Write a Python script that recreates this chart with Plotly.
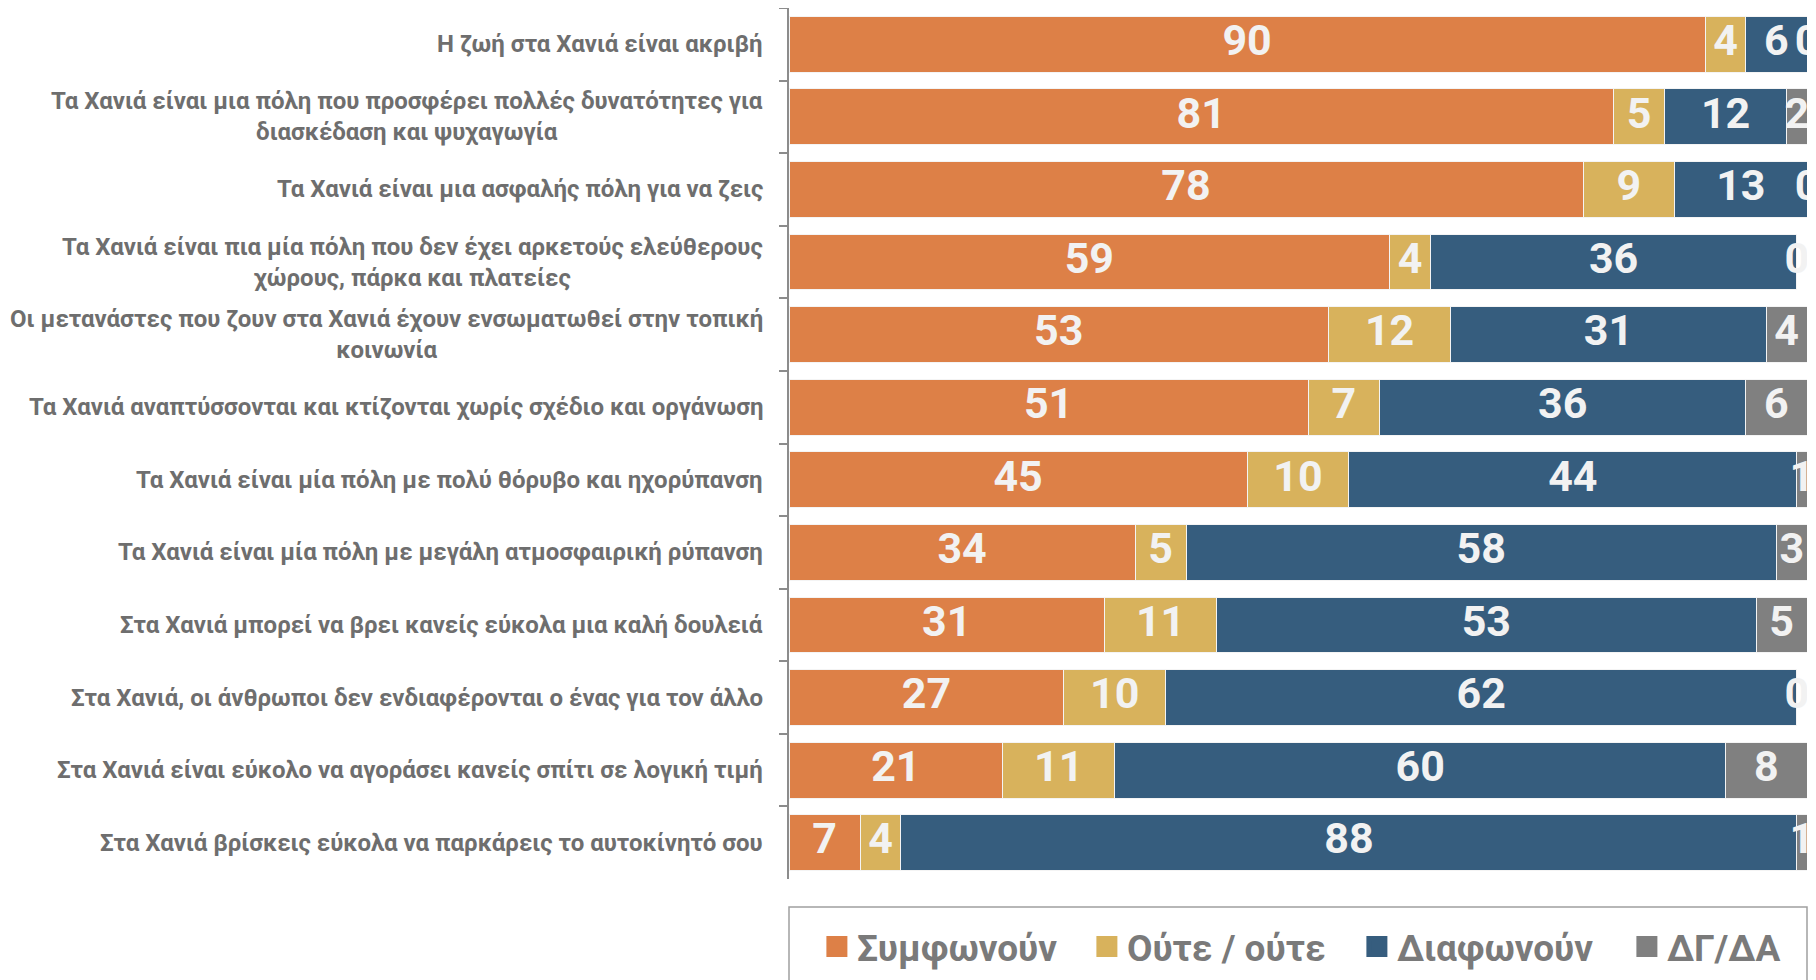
import plotly.graph_objects as go

categories = [
    "Η ζωή στα Χανιά είναι ακριβή",
    "Τα Χανιά είναι μια πόλη που προσφέρει πολλές δυνατότητες για<br>διασκέδαση και ψυχαγωγία",
    "Τα Χανιά είναι μια ασφαλής πόλη για να ζεις",
    "Τα Χανιά είναι πια μία πόλη που δεν έχει αρκετούς ελεύθερους<br>χώρους, πάρκα και πλατείες",
    "Οι μετανάστες που ζουν στα Χανιά έχουν ενσωματωθεί στην τοπική<br>κοινωνία",
    "Τα Χανιά αναπτύσσονται και κτίζονται χωρίς σχέδιο και οργάνωση",
    "Τα Χανιά είναι μία πόλη με πολύ θόρυβο και ηχορύπανση",
    "Τα Χανιά είναι μία πόλη με μεγάλη ατμοσφαιρική ρύπανση",
    "Στα Χανιά μπορεί να βρει κανείς εύκολα μια καλή δουλειά",
    "Στα Χανιά, οι άνθρωποι δεν ενδιαφέρονται ο ένας για τον άλλο",
    "Στα Χανιά είναι εύκολο να αγοράσει κανείς σπίτι σε λογική τιμή",
    "Στα Χανιά βρίσκεις εύκολα να παρκάρεις το αυτοκίνητό σου",
]
agree = [90, 81, 78, 59, 53, 51, 45, 34, 31, 27, 21, 7]
neither = [4, 5, 9, 4, 12, 7, 10, 5, 11, 10, 11, 4]
disagree = [6, 12, 13, 36, 31, 36, 44, 58, 53, 62, 60, 88]
dkna = [0, 2, 0, 0, 4, 6, 1, 3, 5, 0, 8, 1]

series_names = ["Συμφωνούν", "Ούτε / ούτε", "Διαφωνούν", "ΔΓ/ΔΑ"]
series_values = [agree, neither, disagree, dkna]
colors = ["#DD8047", "#D8B25C", "#365D7E", "#808080"]

FONT = "Roboto"
GREY = "#6E6E6E"

fig = go.Figure()

# stacked bars
for name, vals, col in zip(series_names, series_values, colors):
    fig.add_trace(go.Bar(
        y=categories, x=vals, orientation="h", name=name,
        marker=dict(color=col, line=dict(color="#F4F4F4", width=1)),
        showlegend=False, hoverinfo="x+name",
    ))

# data labels centred on each segment
cum = [0] * len(categories)
for name, vals in zip(series_names, series_values):
    mids = [c + v / 2 for c, v in zip(cum, vals)]
    fig.add_trace(go.Scatter(
        y=categories, x=mids, mode="text", text=[str(v) for v in vals],
        textposition="middle center",
        textfont=dict(family=FONT, size=43, color="#F2F2F2", weight="bold"),
        cliponaxis=True, showlegend=False, hoverinfo="skip",
    ))
    cum = [c + v for c, v in zip(cum, vals)]

# legend entries
for name, col in zip(series_names, colors):
    fig.add_trace(go.Scatter(
        x=[None], y=[None], mode="markers", name=name,
        marker=dict(symbol="square", size=16, color=col,
                    line=dict(color=col, width=5)),
        showlegend=True,
    ))

# category labels (centred multi-line, right anchored)
annotations = []
for cat in categories:
    annotations.append(dict(
        x=-0.0236, xref="paper", y=cat, yref="y",
        text=cat, showarrow=False, xanchor="right", yanchor="middle",
        align="center",
        font=dict(family=FONT, size=24, color=GREY, weight="bold"),
    ))

n = len(categories)
fig.update_layout(
    width=1808, height=972,
    margin=dict(l=781, r=9, t=0, b=101, autoexpand=False),
    barmode="stack", bargap=0.23,
    paper_bgcolor="white", plot_bgcolor="white",
    annotations=annotations,
    xaxis=dict(range=[0, 100], visible=False, fixedrange=True),
    yaxis=dict(
        type="category", range=[n - 0.5, -0.5], autorange=False,
        showticklabels=False, showgrid=False, zeroline=False,
        showline=True, linecolor="#8C8C8C", linewidth=1.5,
        ticks="outside", tickson="boundaries", ticklen=8,
        tickcolor="#8C8C8C", tickwidth=1.5,
    ),
    legend=dict(
        orientation="h", traceorder="normal",
        xref="paper", yref="paper",
        x=-0.0005, xanchor="left", y=-0.078, yanchor="middle",
        font=dict(family=FONT, size=37, color="#7A7A7A", weight="bold"),
        title=dict(text="\u00a0\u00a0", side="left",
                   font=dict(family=FONT, size=37, color="#7A7A7A")),
        entrywidth=225, entrywidthmode="pixels",
        bgcolor="rgba(0,0,0,0)", itemwidth=30,
    ),
    shapes=[dict(
        type="rect", xref="paper", yref="paper",
        x0=0, x1=1, y0=-0.13, y1=-0.0321,
        line=dict(color="#A0A0A0", width=1.5), fillcolor="rgba(0,0,0,0)",
    )],
)

fig.write_html("out.html")
